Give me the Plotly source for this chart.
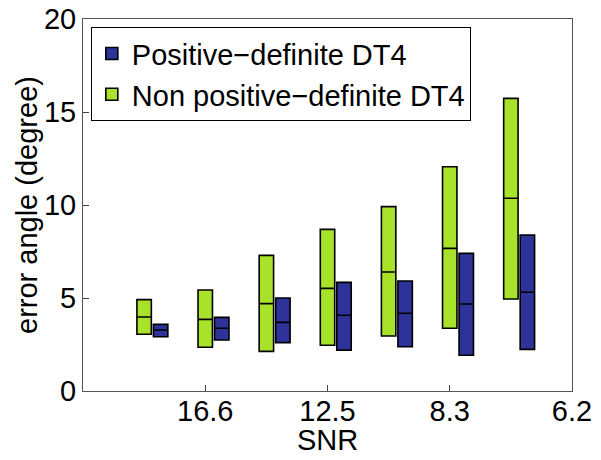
import plotly.graph_objects as go

# SNR groups: 7 noise levels, positions at half steps on the axis
group_pos = [0.5, 1.0, 1.5, 2.0, 2.5, 3.0, 3.5]
snr_ticks = [1, 2, 3, 4]
snr_labels = ["16.6", "12.5", "8.3", "6.2"]

# non positive-definite DT4 (green)
npd_low = [3.05, 2.35, 2.13, 2.46, 2.96, 3.37, 4.95]
npd_med = [3.98, 3.85, 4.70, 5.52, 6.40, 7.67, 10.36]
npd_high = [4.91, 5.43, 7.29, 8.69, 9.91, 12.06, 15.73]

# positive-definite DT4 (blue)
pd_low = [2.92, 2.74, 2.60, 2.20, 2.38, 1.92, 2.24]
pd_med = [3.28, 3.37, 3.69, 4.07, 4.18, 4.68, 5.31]
pd_high = [3.58, 3.96, 5.00, 5.84, 5.91, 7.40, 8.39]

GREEN = "#a8e22a"
BLUE = "#2d3399"
OFFSET = 0.135
BOXW = 0.118
FAMILY = "Liberation Sans, Arial, sans-serif"

fig = go.Figure()

fig.add_trace(go.Box(
    x=[p + OFFSET for p in group_pos],
    q1=pd_low, median=pd_med, q3=pd_high,
    lowerfence=pd_low, upperfence=pd_high,
    width=BOXW, whiskerwidth=0,
    fillcolor=BLUE, line=dict(color="black", width=1.6),
    name="Positive\u2212definite DT4", hoverinfo="skip",
))
fig.add_trace(go.Box(
    x=group_pos,
    q1=npd_low, median=npd_med, q3=npd_high,
    lowerfence=npd_low, upperfence=npd_high,
    width=BOXW, whiskerwidth=0,
    fillcolor=GREEN, line=dict(color="black", width=1.6),
    name="Non positive\u2212definite DT4", hoverinfo="skip",
))

axis_font = dict(family=FAMILY, size=29, color="black")

# page body keeps its default 8px margin, so the figure is sized to fit inside
fig.update_layout(
    width=593, height=452,
    margin=dict(l=75, r=29, t=11, b=69),
    paper_bgcolor="white", plot_bgcolor="white",
    boxmode="overlay",
    font=axis_font,
    xaxis=dict(
        range=[0, 4], tickvals=snr_ticks, ticktext=snr_labels,
        ticks="inside", ticklen=6, tickcolor="#444",
        showline=True, linecolor="#555", linewidth=1, mirror=True,
        showgrid=False, zeroline=False, automargin=False,
        tickfont=axis_font, ticklabelstandoff=-6, ticklabeloverflow="allow",
    ),
    yaxis=dict(
        range=[0, 20], tickvals=[0, 5, 10, 15, 20],
        ticks="inside", ticklen=6, tickcolor="#444",
        showline=True, linecolor="#555", linewidth=1, mirror=True,
        showgrid=False, zeroline=False, automargin=False,
        tickfont=axis_font, ticklabeloverflow="allow",
    ),
    legend=dict(
        x=0.016, y=0.978, xanchor="left", yanchor="top",
        bgcolor="white", bordercolor="black", borderwidth=1,
        font=dict(family=FAMILY, size=29, color="black"),
        traceorder="normal",
    ),
    showlegend=True,
    annotations=[
        dict(text="SNR", xref="paper", yref="paper", x=0.5, y=0,
             xanchor="center", yanchor="top", yshift=-31, showarrow=False,
             font=axis_font),
        dict(text="error angle (degree)", xref="paper", yref="paper", x=0, y=0.5,
             xanchor="right", yanchor="middle", xshift=-38, textangle=-90,
             showarrow=False, font=axis_font),
    ],
)

fig.write_html("out.html")
